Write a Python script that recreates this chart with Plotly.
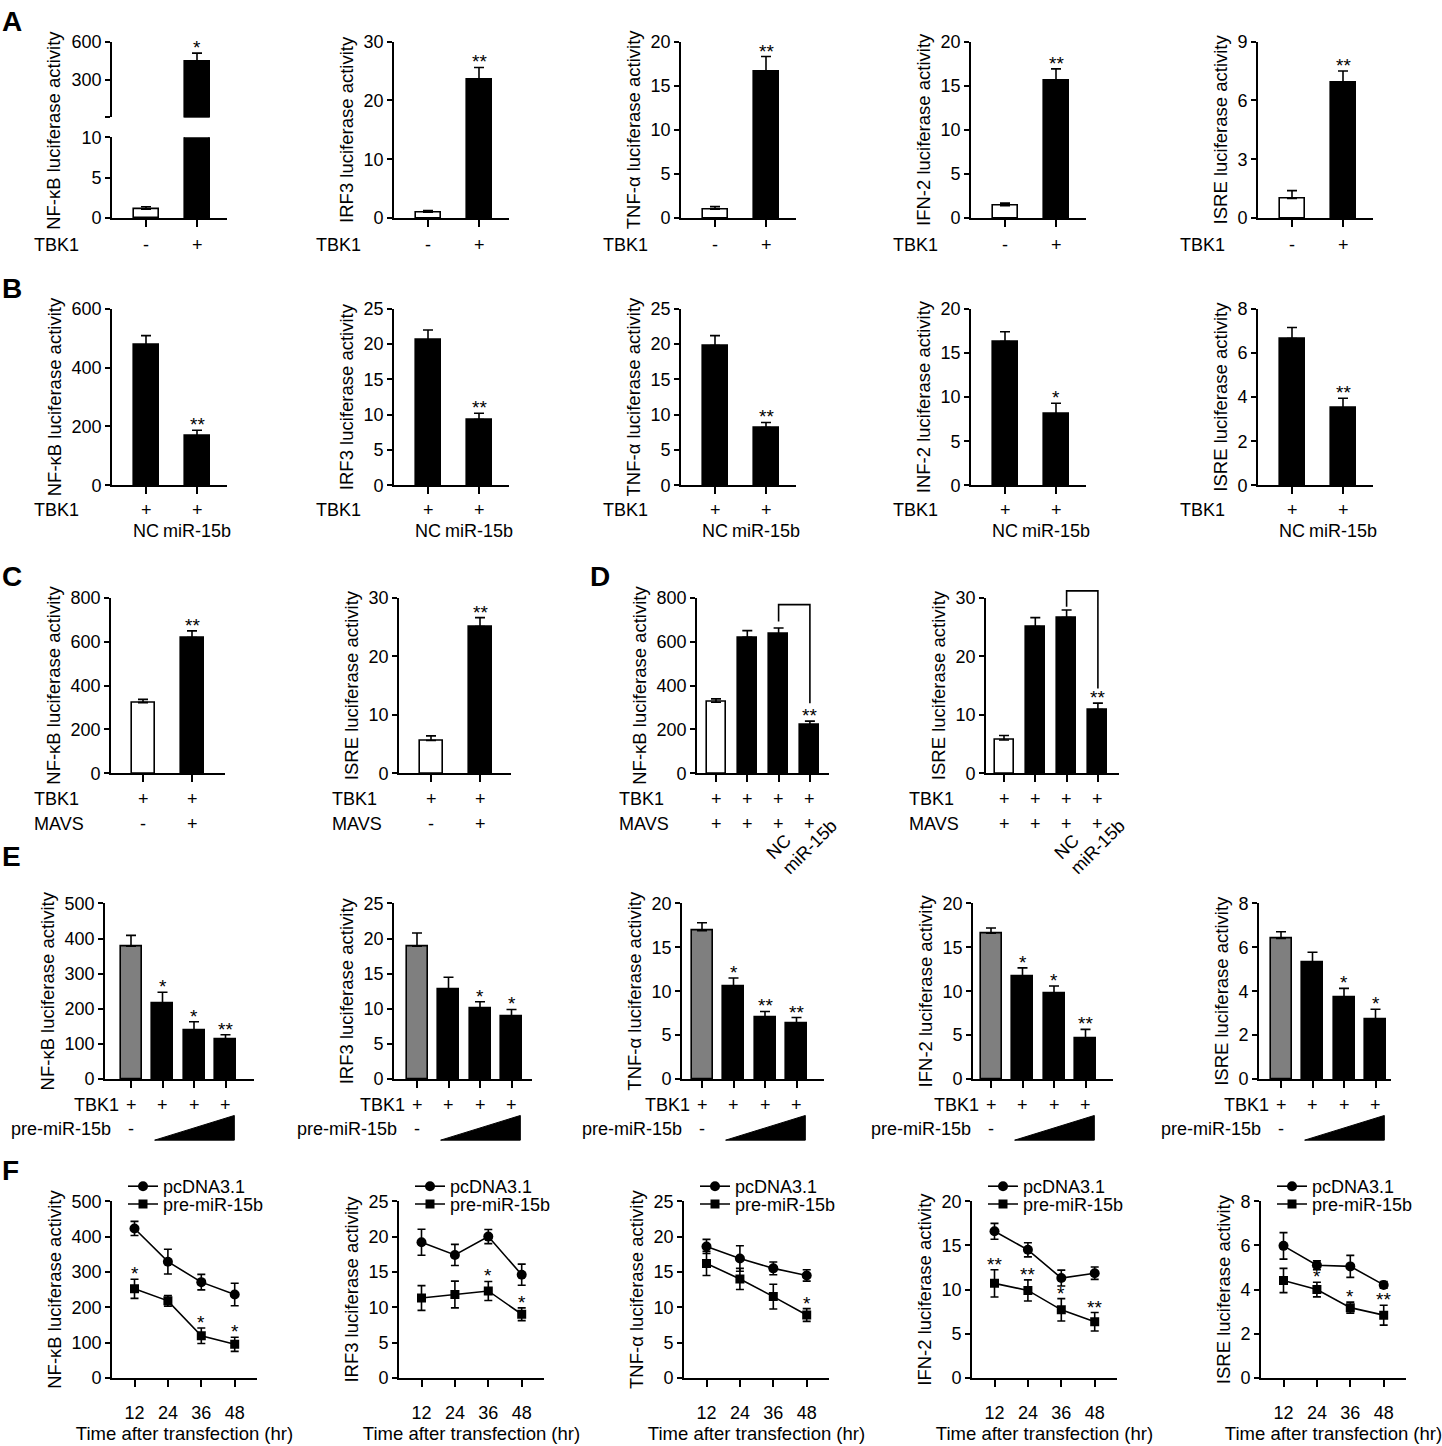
import plotly.graph_objects as go

W, H = 1442, 1446
FONT = "Liberation Sans, Arial, Helvetica, sans-serif"
FS = 18
FS_TITLE = 18.5
FS_STAR = 19
LW = 1.6

# ============================ DATA ============================
# ---- Panel A : TBK1 - / + ----
A_titles = ["NF-κB luciferase activity", "IRF3 luciferase activity",
            "TNF-α luciferase activity", "IFN-2 luciferase activity",
            "ISRE luciferase activity"]
A_tbk1 = ["-", "+"]
A_values = [[1.1, 443], [1.0, 23.6], [1.0, 16.6], [1.4, 15.6], [1.0, 6.9]]
A_errors = [[0.3, 67], [0.3, 2.0], [0.3, 1.7], [0.3, 1.3], [0.4, 0.6]]
A_sig = [["", "*"], ["", "**"], ["", "**"], ["", "**"], ["", "**"]]
A_yticks = [[0, 5, 10], [0, 10, 20, 30], [0, 5, 10, 15, 20],
            [0, 5, 10, 15, 20], [0, 3, 6, 9]]
A1_upper_ticks = [10, 300, 600]
A1_upper_ticktext = ["", "300", "600"]

# ---- Panel B : TBK1 + NC / miR-15b ----
B_titles = ["NF-κB luciferase activity", "IRF3 luciferase activity",
            "TNF-α luciferase activity", "INF-2 luciferase activity",
            "ISRE luciferase activity"]
B_tbk1 = ["+", "+"]
B_groups = ["NC", "miR-15b"]
B_values = [[478, 167], [20.6, 9.3], [19.8, 8.2], [16.3, 8.1], [6.65, 3.5]]
B_errors = [[31, 20], [1.4, 0.9], [1.4, 0.7], [1.1, 1.2], [0.5, 0.45]]
B_sig = [["", "**"], ["", "**"], ["", "**"], ["", "*"], ["", "**"]]
B_yticks = [[0, 200, 400, 600], [0, 5, 10, 15, 20, 25], [0, 5, 10, 15, 20, 25],
            [0, 5, 10, 15, 20], [0, 2, 4, 6, 8]]

# ---- Panel C : TBK1 + MAVS ----
C_titles = ["NF-κB luciferase activity", "ISRE luciferase activity"]
C_tbk1 = ["+", "+"]
C_mavs = ["-", "+"]
C_values = [[322, 619], [5.6, 25.1]]
C_errors = [[15, 30], [0.8, 1.5]]
C_sig = [["", "**"], ["", "**"]]
C_yticks = [[0, 200, 400, 600, 800], [0, 10, 20, 30]]

# ---- Panel D : TBK1 + MAVS + NC / miR-15b ----
D_titles = ["NF-κB luciferase activity", "ISRE luciferase activity"]
D_tbk1 = ["+", "+", "+", "+"]
D_mavs = ["+", "+", "+", "+"]
D_groups = ["", "", "NC", "miR-15b"]
D_values = [[324, 620, 635, 219], [5.7, 25.1, 26.6, 10.9]]
D_errors = [[15, 30, 27, 19], [0.75, 1.5, 1.3, 1.1]]
D_sig = [["", "", "", "**"], ["", "", "", "**"]]
D_yticks = [[0, 200, 400, 600, 800], [0, 10, 20, 30]]

# ---- Panel E : TBK1 + increasing pre-miR-15b ----
E_titles = ["NF-κB luciferase activity", "IRF3 luciferase activity",
            "TNF-α luciferase activity", "IFN-2 luciferase activity",
            "ISRE luciferase activity"]
E_tbk1 = ["+", "+", "+", "+"]
E_pre = ["-", "", "", ""]
E_values = [[378, 215, 138, 112], [18.9, 12.7, 10.0, 8.86],
            [16.9, 10.6, 7.0, 6.34], [16.6, 11.66, 9.7, 4.66],
            [6.41, 5.33, 3.72, 2.73]]
E_errors = [[31, 32, 25, 14], [1.9, 1.8, 1.0, 1.04], [0.9, 0.9, 0.7, 0.66],
            [0.6, 1.0, 0.9, 1.0], [0.3, 0.45, 0.41, 0.45]]
E_sig = [["", "*", "*", "**"], ["", "", "*", "*"], ["", "*", "**", "**"],
         ["", "*", "*", "**"], ["", "", "*", "*"]]
E_yticks = [[0, 100, 200, 300, 400, 500], [0, 5, 10, 15, 20, 25],
            [0, 5, 10, 15, 20], [0, 5, 10, 15, 20], [0, 2, 4, 6, 8]]

# ---- Panel F : time course ----
F_titles = ["NF-κB luciferase activity", "IRF3 luciferase activity",
            "TNF-α luciferase activity", "IFN-2 luciferase activity",
            "ISRE luciferase activity"]
F_hours = [12, 24, 36, 48]
F_series = ["pcDNA3.1", "pre-miR-15b"]
F_pc = [[423, 329, 271, 236], [19.2, 17.4, 20.0, 14.6], [18.6, 16.9, 15.5, 14.5],
        [16.6, 14.5, 11.3, 11.85], [5.98, 5.1, 5.05, 4.21]]
F_pc_err = [[20, 35, 22, 32], [1.85, 1.5, 1.0, 1.5], [1.0, 1.8, 0.9, 0.8],
            [0.9, 0.8, 0.9, 0.7], [0.6, 0.2, 0.5, 0.15]]
F_pre = [[252, 218, 119, 95], [11.3, 11.8, 12.3, 9.0], [16.2, 14.0, 11.5, 8.9],
         [10.7, 9.9, 7.7, 6.35], [4.41, 4.0, 3.18, 2.84]]
F_pre_err = [[27, 15, 22, 20], [1.75, 1.9, 1.35, 0.9], [1.7, 1.5, 1.75, 0.9],
             [1.55, 1.2, 1.27, 1.05], [0.55, 0.33, 0.25, 0.45]]
F_sig = [["*", "", "*", "*"], ["", "", "*", "*"], ["", "", "", "*"],
         ["**", "**", "*", "**"], ["", "*", "*", "**"]]
F_yticks = [[0, 100, 200, 300, 400, 500], [0, 5, 10, 15, 20, 25],
            [0, 5, 10, 15, 20, 25], [0, 5, 10, 15, 20], [0, 2, 4, 6, 8]]
F_xlabel = "Time after transfection (hr)"

# ============================ STYLE / GEOMETRY (pixels) ============================
WHITE, BLACK, GREY = "#ffffff", "#000000", "#7f7f7f"
A_colors = [WHITE, BLACK]
B_colors = [BLACK, BLACK]
C_colors = [WHITE, BLACK]
D_colors = [WHITE, BLACK, BLACK, BLACK]
E_colors = [GREY, BLACK, BLACK, BLACK]

GA = dict(top=32, bot=211, L=[112, 394, 681, 971, 1258], w=115, first=34, sp=51, bw=25,
          row1=238, lab=-80, a1_upper_bot=109, a1_lower_top=129)
GB = dict(top=303, bot=482, L=[112, 394, 681, 971, 1258], w=115, first=34, sp=51, bw=25,
          row1=507, row2=528, lab=-80)
GC = dict(top=596, bot=774, L=[111, 399], R=[225, 511], c0=[143, 431], sp=49, bw=23,
          row1=800, row2=825, labx=[32, 330])
GD = dict(top=596, bot=774, L=[697, 986], R=[829, 1119], c0=[716, 1004], sp=31.3, bw=19,
          row1=800, row2=825, row3=849, labx=[617, 907],
          br_top=[603, 589], br_left=[620, 605], br_right=[703, 688])
GE = dict(top=906, bot=1084, L=[105, 394, 682, 973, 1259], R=[254, 532, 824, 1113, 1391],
          c0=[131, 417, 702, 991, 1281], sp=31.5, bw=21, row1=1110, row2=1135,
          wedge_top=1121, wedge_bot=1146)
GF = dict(top=1208, bot=1387, L=[112, 399, 684, 972, 1261], w=145, first=22.5, pxh=33.4 / 12,
          leg1=1193, leg2=1211, legtext=55)
LETTERS = [("A", 12), ("B", 282), ("C", 574), ("D", 574), ("E", 858), ("F", 1177)]
LETTER_X = {"A": 0, "B": 0, "C": 0, "D": 588, "E": 0, "F": 0}

# ============================ BUILD ============================
fig = go.Figure()
axes, ann, shapes, legends = {}, [], [], {}
cnt = {"ax": 0, "leg": 0}


def X(p):
    return p / W


def Y(p):
    return 1 - p / H


def base_axis():
    return dict(showline=True, linecolor="black", linewidth=LW, ticks="outside",
                tickcolor="black", tickwidth=LW, showgrid=False, zeroline=False,
                fixedrange=True, tickfont=dict(size=FS, family=FONT, color="black"))


def new_axes(L, R, top, bot, xrange, yrange, ytickvals, yticktext=None, xtickvals=None,
             xticktext=None, ytitle=None, xtitle=None, xvisible=True):
    cnt["ax"] += 1
    k = cnt["ax"]
    s = "" if k == 1 else str(k)
    xa = base_axis()
    xa.update(domain=[X(L), X(R)], range=xrange, anchor="y" + s, ticklen=7,
              tickvals=xtickvals, visible=xvisible)
    if xticktext is None:
        xa["showticklabels"] = False
    else:
        xa.update(ticktext=xticktext, ticklabelstandoff=11)
    if xtitle:
        xa["title"] = dict(text=xtitle, font=dict(size=FS_TITLE), standoff=3)
    ya = base_axis()
    ya.update(domain=[Y(bot), Y(top)], range=yrange, anchor="x" + s, ticklen=5,
              tickvals=ytickvals)
    if yticktext is not None:
        ya["ticktext"] = yticktext
    if ytitle:
        ya["title"] = dict(text=ytitle, font=dict(size=FS_TITLE), standoff=5)
    axes["xaxis" + s] = xa
    axes["yaxis" + s] = ya
    return "x" + s, "y" + s


def add_bars(xr, yr, values, errors, colors, width):
    n = len(values)
    fig.add_trace(go.Bar(
        x=list(range(n)), y=values, width=width,
        marker=dict(color=colors, line=dict(color="black", width=LW)),
        error_y=dict(type="data", array=errors, arrayminus=[0] * n, symmetric=False,
                     color="black", thickness=LW, width=5),
        xaxis=xr, yaxis=yr, showlegend=False, hoverinfo="skip"))


def stars(xr, yr, xs, tops, sig):
    for x, t, s in zip(xs, tops, sig):
        if s:
            ann.append(dict(x=x, y=t, xref=xr, yref=yr, text=s, showarrow=False,
                            xanchor="center", yanchor="bottom", yshift=-7,
                            font=dict(size=FS_STAR)))


def row_text(xr, labels, y_px, angle=0):
    for i, t in enumerate(labels):
        if t:
            ann.append(dict(x=i, y=Y(y_px), xref=xr, yref="paper", text=t, showarrow=False,
                            xanchor="center", yanchor="middle", textangle=angle))


def row_name(text, x_px, y_px, anchor="left"):
    ann.append(dict(x=X(x_px), y=Y(y_px), xref="paper", yref="paper", text=text,
                    showarrow=False, xanchor=anchor, yanchor="middle"))


def tops(v, e):
    return [a + b for a, b in zip(v, e)]


# ---------------- Row A ----------------
for i in range(5):
    L = GA["L"][i]
    R = L + GA["w"]
    c0 = L + GA["first"]
    sp = GA["sp"]
    xrng = [(L - c0) / sp, (R - c0) / sp]
    if i == 0:
        low_max = A_yticks[0][-1]
        xl, yl = new_axes(L, R, GA["a1_lower_top"], GA["bot"], xrng,
                          [A_yticks[0][0], low_max], A_yticks[0], xtickvals=[0, 1])
        xu, yu = new_axes(L, R, GA["top"], GA["a1_upper_bot"], xrng,
                          [A1_upper_ticks[0], A1_upper_ticks[-1]], A1_upper_ticks,
                          A1_upper_ticktext, xvisible=False)
        add_bars(xl, yl, A_values[0], A_errors[0], A_colors, GA["bw"] / sp)
        upper_vals = [v if v > A1_upper_ticks[0] else None for v in A_values[0]]
        upper_errs = [e if v > A1_upper_ticks[0] else 0 for v, e in zip(A_values[0], A_errors[0])]
        add_bars(xu, yu, upper_vals, upper_errs, A_colors, GA["bw"] / sp)
        stars(xu, yu, [0, 1], tops(A_values[0], A_errors[0]), A_sig[0])
        ann.append(dict(x=X(54), y=Y((GA["top"] + GA["bot"]) / 2), xref="paper", yref="paper",
                        text=A_titles[0], textangle=-90, showarrow=False,
                        xanchor="center", yanchor="middle", font=dict(size=FS_TITLE)))
        row_text(xl, A_tbk1, GA["row1"])
    else:
        xr, yr = new_axes(L, R, GA["top"], GA["bot"], xrng, [0, A_yticks[i][-1]], A_yticks[i],
                          xtickvals=[0, 1], ytitle=A_titles[i])
        add_bars(xr, yr, A_values[i], A_errors[i], A_colors, GA["bw"] / sp)
        stars(xr, yr, [0, 1], tops(A_values[i], A_errors[i]), A_sig[i])
        row_text(xr, A_tbk1, GA["row1"])
    row_name("TBK1", L + GA["lab"], GA["row1"])

# ---------------- Row B ----------------
for i in range(5):
    L = GB["L"][i]
    R = L + GB["w"]
    c0 = L + GB["first"]
    sp = GB["sp"]
    xrng = [(L - c0) / sp, (R - c0) / sp]
    xr, yr = new_axes(L, R, GB["top"], GB["bot"], xrng, [0, B_yticks[i][-1]], B_yticks[i],
                      xtickvals=[0, 1], ytitle=B_titles[i])
    add_bars(xr, yr, B_values[i], B_errors[i], B_colors, GB["bw"] / sp)
    stars(xr, yr, [0, 1], tops(B_values[i], B_errors[i]), B_sig[i])
    row_text(xr, B_tbk1, GB["row1"])
    row_text(xr, B_groups, GB["row2"])
    row_name("TBK1", L + GB["lab"], GB["row1"])

# ---------------- Row C ----------------
for i in range(2):
    L, R, c0, sp = GC["L"][i], GC["R"][i], GC["c0"][i], GC["sp"]
    xrng = [(L - c0) / sp, (R - c0) / sp]
    xr, yr = new_axes(L, R, GC["top"], GC["bot"], xrng, [0, C_yticks[i][-1]], C_yticks[i],
                      xtickvals=[0, 1], ytitle=C_titles[i])
    add_bars(xr, yr, C_values[i], C_errors[i], C_colors, GC["bw"] / sp)
    stars(xr, yr, [0, 1], tops(C_values[i], C_errors[i]), C_sig[i])
    row_text(xr, C_tbk1, GC["row1"])
    row_text(xr, C_mavs, GC["row2"])
    row_name("TBK1", GC["labx"][i], GC["row1"])
    row_name("MAVS", GC["labx"][i], GC["row2"])

# ---------------- Row D ----------------
for i in range(2):
    L, R, c0, sp = GD["L"][i], GD["R"][i], GD["c0"][i], GD["sp"]
    xrng = [(L - c0) / sp, (R - c0) / sp]
    xr, yr = new_axes(L, R, GD["top"], GD["bot"], xrng, [0, D_yticks[i][-1]], D_yticks[i],
                      xtickvals=[0, 1, 2, 3], ytitle=D_titles[i])
    add_bars(xr, yr, D_values[i], D_errors[i], D_colors, GD["bw"] / sp)
    stars(xr, yr, [0, 1, 2, 3], tops(D_values[i], D_errors[i]), D_sig[i])
    row_text(xr, D_tbk1, GD["row1"])
    row_text(xr, D_mavs, GD["row2"])
    row_text(xr, D_groups, GD["row3"], angle=-45)
    row_name("TBK1", GD["labx"][i], GD["row1"])
    row_name("MAVS", GD["labx"][i], GD["row2"])
    path = "M 2,{a} L 2,{t} L 3,{t} L 3,{b}".format(
        a=Y(GD["br_left"][i]), t=Y(GD["br_top"][i]), b=Y(GD["br_right"][i]))
    shapes.append(dict(type="path", xref=xr, yref="paper", path=path,
                       line=dict(color="black", width=LW)))

# ---------------- Row E ----------------
for i in range(5):
    L, R, c0, sp = GE["L"][i], GE["R"][i], GE["c0"][i], GE["sp"]
    xrng = [(L - c0) / sp, (R - c0) / sp]
    xr, yr = new_axes(L, R, GE["top"], GE["bot"], xrng, [0, E_yticks[i][-1]], E_yticks[i],
                      xtickvals=[0, 1, 2, 3], ytitle=E_titles[i])
    add_bars(xr, yr, E_values[i], E_errors[i], E_colors, GE["bw"] / sp)
    stars(xr, yr, [0, 1, 2, 3], tops(E_values[i], E_errors[i]), E_sig[i])
    row_text(xr, E_tbk1, GE["row1"])
    row_text(xr, E_pre, GE["row2"])
    row_name("TBK1", c0 - 10, GE["row1"], anchor="right")
    row_name("pre-miR-15b", c0 - 18, GE["row2"], anchor="right")
    wpath = "M {a},{yb} L {b},{yb} L {b},{yt} Z".format(
        a=0.75, b=3.28, yb=Y(GE["wedge_bot"]), yt=Y(GE["wedge_top"]))
    shapes.append(dict(type="path", xref=xr, yref="paper", path=wpath,
                       fillcolor="black", line=dict(color="black", width=1)))

# ---------------- Row F ----------------
for i in range(5):
    L = GF["L"][i]
    R = L + GF["w"]
    pxh = GF["pxh"]
    xrng = [F_hours[0] - GF["first"] / pxh, F_hours[0] + (GF["w"] - GF["first"]) / pxh]
    xr, yr = new_axes(L, R, GF["top"], GF["bot"], xrng, [0, F_yticks[i][-1]], F_yticks[i],
                      xtickvals=F_hours, xticktext=[str(h) for h in F_hours],
                      ytitle=F_titles[i], xtitle=F_xlabel)
    for series, vals, errs, sym, ly in [(F_series[0], F_pc[i], F_pc_err[i], "circle", GF["leg1"]),
                                        (F_series[1], F_pre[i], F_pre_err[i], "square", GF["leg2"])]:
        cnt["leg"] += 1
        lname = "legend" if cnt["leg"] == 1 else "legend%d" % cnt["leg"]
        legends[lname] = dict(x=X(L + GF["legtext"] - 44), y=Y(ly), xanchor="left",
                              yanchor="middle", bgcolor="rgba(0,0,0,0)", borderwidth=0,
                              font=dict(size=FS, family=FONT, color="black"),
                              itemclick=False, itemdoubleclick=False)
        fig.add_trace(go.Scatter(
            x=F_hours, y=vals, mode="lines+markers", name=series,
            marker=dict(symbol=sym, size=10 if sym == "circle" else 9, color="black"),
            line=dict(color="black", width=LW),
            error_y=dict(type="data", array=errs, color="black", thickness=LW, width=4),
            xaxis=xr, yaxis=yr, legend=lname, showlegend=True, hoverinfo="skip"))
    stars(xr, yr, F_hours, tops(F_pre[i], F_pre_err[i]), F_sig[i])

# ---------------- panel letters ----------------
for letter, ypx in LETTERS:
    ann.append(dict(x=X(LETTER_X[letter]), y=Y(ypx), xref="paper", yref="paper",
                    text="<b>%s</b>" % letter, showarrow=False, xanchor="left",
                    yanchor="middle", font=dict(size=28)))

fig.update_layout(
    width=W, height=H, margin=dict(l=0, r=0, t=0, b=0),
    plot_bgcolor="white", paper_bgcolor="white",
    font=dict(family=FONT, size=FS, color="black"),
    annotations=ann, shapes=shapes, bargap=0,
    **axes, **legends)

fig.write_html("out.html", config={"displayModeBar": False},
               post_script="document.body.style.margin='0';document.body.style.overflow='hidden';")
